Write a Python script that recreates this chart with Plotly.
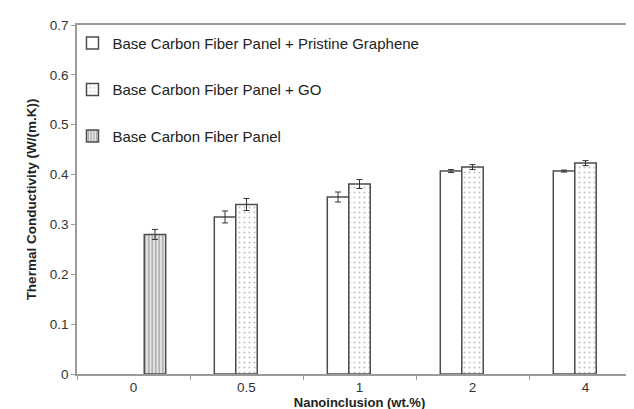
import plotly.graph_objects as go

categories = ["0", "0.5", "1", "2", "4"]
pristine = [None, 0.315, 0.355, 0.407, 0.407]
pristine_err = [None, 0.012, 0.010, 0.003, 0.002]
go_vals = [None, 0.340, 0.381, 0.415, 0.423]
go_err = [None, 0.012, 0.009, 0.005, 0.005]
base = [0.280, None, None, None, None]
base_err = [0.010, None, None, None, None]

names = ["Base Carbon Fiber Panel + Pristine Graphene",
         "Base Carbon Fiber Panel + GO",
         "Base Carbon Fiber Panel"]

line_col = "#4d4d4d"
err = dict(type="data", thickness=1, width=3, color="#333333")

fig = go.Figure()
fig.add_trace(go.Bar(x=categories, y=pristine, name=names[0], legendgroup="a",
                     marker=dict(color="white", line=dict(color=line_col, width=1.5)),
                     error_y=dict(array=pristine_err, **err)))
fig.add_trace(go.Bar(x=categories, y=go_vals, name=names[1], legendgroup="b",
                     marker=dict(color="white", line=dict(color=line_col, width=1.5),
                                 pattern=dict(shape=".", fgcolor="#888888", bgcolor="white",
                                              size=5, solidity=0.15)),
                     error_y=dict(array=go_err, **err)))
fig.add_trace(go.Bar(x=categories, y=base, name=names[2], legendgroup="c",
                     marker=dict(color="white", line=dict(color=line_col, width=1.5),
                                 pattern=dict(shape="|", fgcolor="#555555", bgcolor="#e4e4e4",
                                              size=3.5, solidity=0.35)),
                     error_y=dict(array=base_err, **err)))

fig.update_layout(
    width=634, height=409,
    margin=dict(l=69, r=0, t=17, b=43),
    paper_bgcolor="white", plot_bgcolor="white",
    barmode="group", bargap=0.43, bargroupgap=0,
    font=dict(family="Liberation Sans, Arial, sans-serif", size=13, color="#333333"),
    showlegend=True,
    legend=dict(x=-0.008, y=0.995, xanchor="left", yanchor="top",
                bgcolor="rgba(0,0,0,0)", tracegroupgap=24,
                traceorder="grouped",
                font=dict(size=15, color="#222222"),
                itemwidth=30),
    xaxis=dict(
        type="category", range=[-0.5, 4.5],
        showline=True, linecolor="#9a9a9a", linewidth=1.5, mirror=True,
        ticks="outside", tickson="boundaries", ticklen=4, tickcolor="#9a9a9a",
        showgrid=False, tickfont=dict(size=13.5, color="#333333"),
        title=dict(text="<b>Nanoinclusion (wt.%)</b>", font=dict(size=13, color="#222222"), standoff=0),
    ),
    yaxis=dict(
        range=[0, 0.7], dtick=0.1, tickformat="~g",
        showline=True, linecolor="#9a9a9a", linewidth=1.5,
        ticks="outside", ticklen=4, tickcolor="#9a9a9a",
        showgrid=False, zeroline=False, tickfont=dict(size=13.5, color="#333333"),
        title=dict(text="<b>Thermal Conductivity (W/(m.K))</b>", font=dict(size=13.5, color="#222222"), standoff=10),
    ),
)

fig.write_html("out.html")
